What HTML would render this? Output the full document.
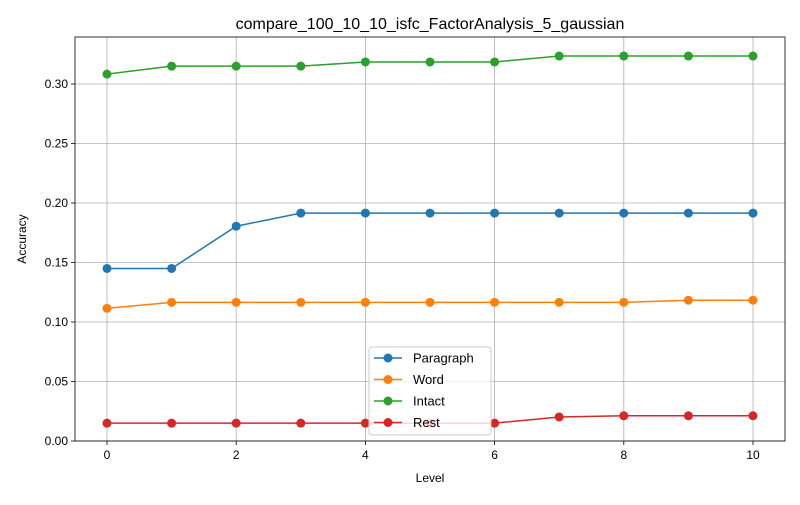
<!DOCTYPE html>
<html><head><meta charset="utf-8"><style>
body{margin:0;background:#fff;font-family:"Liberation Sans","DejaVu Sans",sans-serif}
</style></head><body>
<svg id="chart" width="800" height="500" xmlns="http://www.w3.org/2000/svg"></svg>
<script>
const levels=[0,1,2,3,4,5,6,7,8,9,10];
const paragraph=[0.145,0.145,0.1805,0.1915,0.1915,0.1915,0.1915,0.1915,0.1915,0.1915,0.1915];
const word=[0.1115,0.1165,0.1165,0.1165,0.1165,0.1165,0.1165,0.1165,0.1165,0.1183,0.1183];
const intact=[0.3083,0.315,0.315,0.315,0.3185,0.3185,0.3185,0.3235,0.3235,0.3235,0.3235];
const rest=[0.015,0.015,0.015,0.015,0.015,0.015,0.015,0.0202,0.0212,0.0212,0.0212];
const xTicks=[0,2,4,6,8,10];
const yTicks=[0,0.05,0.10,0.15,0.20,0.25,0.30];
const yLabels=["0.00","0.05","0.10","0.15","0.20","0.25","0.30"];
const seriesNames=["Paragraph","Word","Intact","Rest"];
const colors=["#1f77b4","#ff7f0e","#2ca02c","#d62728"];
const svg=document.getElementById('chart');
const NS="http://www.w3.org/2000/svg";
const L=75,R=785,T=37,B=441;
const xs=v=>107+(v-0)*(753-107)/10;
const ys=v=>441-v*(441-84)/0.30;
function mk(tag,attrs,name,parent){const e=document.createElementNS(NS,tag);for(const k in attrs)e.setAttribute(k,attrs[k]);


(parent||svg).appendChild(e);return e;}
mk('text',{x:430,y:29,'text-anchor':'middle','font-size':16,fill:'#000'},'chart-title').textContent='compare_100_10_10_isfc_FactorAnalysis_5_gaussian';
xTicks.forEach(t=>{const x=xs(t);
mk('line',{x1:x,x2:x,y1:T,y2:B,stroke:'#b0b0b0','stroke-width':0.8},'x-gridline');
mk('line',{x1:x,x2:x,y1:B,y2:B+4,stroke:'#000','stroke-width':0.8},'x-tick');
mk('text',{x:x,y:B+18,'text-anchor':'middle','font-size':12},'x-tick-label').textContent=t;});
yTicks.forEach((t,i)=>{const y=ys(t);
mk('line',{x1:L,x2:R,y1:y,y2:y,stroke:'#b0b0b0','stroke-width':0.8},'y-gridline');
mk('line',{x1:L-4,x2:L,y1:y,y2:y,stroke:'#000','stroke-width':0.8},'y-tick');
mk('text',{x:L-7,y:y+4,'text-anchor':'end','font-size':12},'y-tick-label').textContent=yLabels[i];});
mk('rect',{x:L,y:T,width:R-L,height:B-T,fill:'none',stroke:'#000','stroke-width':0.8},'plot-frame');
mk('text',{x:430,y:482,'text-anchor':'middle','font-size':12},'x-axis-title').textContent='Level';
mk('text',{x:26,y:239,'text-anchor':'middle','font-size':12,transform:'rotate(-90 26 239)'},'y-axis-title').textContent='Accuracy';
[paragraph,word,intact,rest].forEach((s,k)=>{
const g=mk('g',{},'series-'+seriesNames[k].toLowerCase());
mk('polyline',{points:s.map((v,i)=>xs(levels[i])+','+ys(v)).join(' '),fill:'none',stroke:colors[k],'stroke-width':1.5},'series-line',g);
s.forEach((v,i)=>mk('circle',{cx:xs(levels[i]),cy:ys(v),r:4.5,fill:colors[k]},'data-point',g));});
const lg=mk('g',{},'legend');
mk('rect',{x:369,y:347,width:122,height:88,rx:3,fill:'#fff','fill-opacity':0.8,stroke:'#ccc'},'legend-box',lg);
seriesNames.forEach((n,k)=>{const y=358+k*21.5;
mk('line',{x1:374,x2:402,y1:y,y2:y,stroke:colors[k],'stroke-width':1.5},'legend-line',lg);
mk('circle',{cx:388,cy:y,r:4.5,fill:colors[k]},'legend-marker',lg);
mk('text',{x:413,y:y+4.5,'font-size':13},'legend-entry',lg).textContent=n;});
</script>
</body></html>
